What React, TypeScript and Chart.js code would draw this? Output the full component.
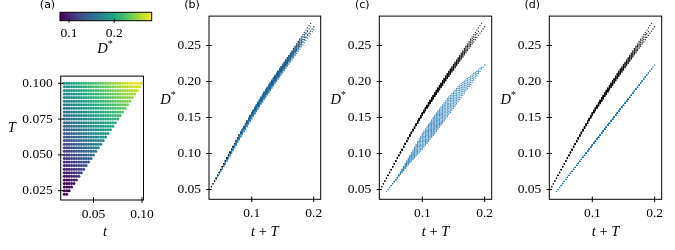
import React, { useEffect, useRef } from "react";
import { Chart, registerables } from "chart.js";
Chart.register(...registerables);

// ---------------- data ----------------
// grid of (t, T) used for panel (a) and the blue series
const T_ROWS = [0.0225, 0.025, 0.0275, 0.03, 0.0325, 0.035, 0.0375, 0.04, 0.0425, 0.045, 0.0475, 0.05, 0.0525, 0.055, 0.0575, 0.06, 0.0625, 0.065, 0.0675, 0.07, 0.0725, 0.075, 0.0775, 0.08, 0.0825, 0.085, 0.0875, 0.09, 0.0925, 0.095, 0.0975, 0.1];
const SMALL_T_COLS = [0.02, 0.0225, 0.025, 0.0275, 0.03, 0.0325, 0.035, 0.0375, 0.04, 0.0425, 0.045, 0.0475, 0.05, 0.0525, 0.055, 0.0575, 0.06, 0.0625, 0.065, 0.0675, 0.07, 0.0725, 0.075, 0.0775, 0.08, 0.0825, 0.085, 0.0875, 0.09, 0.0925, 0.095, 0.0975, 0.1];
// the black (reference) series extends a little lower
const BLACK_EXTRA_ROWS = [0.0175, 0.02];
const BLACK_EXTRA_COLS = [0.015, 0.0175];

// D* read along t+T (lower edge of each cloud and its vertical spread)
const SUM_KNOTS = [0.0325, 0.04, 0.06, 0.08, 0.1, 0.12, 0.14, 0.16, 0.18, 0.2];
const BLACK_LOW = [0.05, 0.0615, 0.093, 0.124, 0.153, 0.179, 0.204, 0.228, 0.252, 0.276];
const BLACK_SPREAD = [0, 0.0005, 0.001, 0.002, 0.0035, 0.0055, 0.007, 0.008, 0.01, 0.011];
const BLUE_B_LOW = [0.05, 0.06, 0.089, 0.119, 0.148, 0.175, 0.2, 0.224, 0.248, 0.272];
const BLUE_B_SPREAD = [0, 0.001, 0.003, 0.007, 0.009, 0.011, 0.012, 0.012, 0.011, 0.01];
const BLUE_C_LOW = [0.036, 0.0445, 0.066, 0.087, 0.106, 0.128, 0.151, 0.175, 0.199, 0.223];
const BLUE_C_SPREAD = [0, 0, 0.001, 0.01, 0.022, 0.025, 0.025, 0.02, 0.01, 0];
const BLUE_D_LINE = [0.036, 0.0445, 0.0668, 0.0891, 0.1114, 0.1337, 0.156, 0.178, 0.2006, 0.223];
const BLUE_D_SPREAD = [0, 0, 0, 0, 0, 0, 0, 0, 0, 0];

// ticks
const A_X_TICKS = [0.05, 0.1];
const A_X_LABELS = ["0.05", "0.10"];
const A_Y_TICKS = [0.025, 0.05, 0.075, 0.1];
const A_Y_LABELS = ["0.025", "0.050", "0.075", "0.100"];
const P_X_TICKS = [0.1, 0.2];
const P_X_LABELS = ["0.1", "0.2"];
const P_Y_TICKS = [0.05, 0.1, 0.15, 0.2, 0.25];
const P_Y_LABELS = ["0.05", "0.10", "0.15", "0.20", "0.25"];
const CB_TICKS = [0.1, 0.2];
const CB_LABELS = ["0.1", "0.2"];
const CB_MIN = 0.08;
const CB_MAX = 0.283;

// ---------------- styles ----------------
const VIRIDIS = ["#440154", "#482475", "#414487", "#355f8d", "#2a788e", "#21918c", "#22a884", "#44bf70", "#7ad151", "#bddf26", "#fde725"];
const SERIF = "'Liberation Serif', 'DejaVu Serif', serif";
const SANS = "'DejaVu Sans', sans-serif";
const TICK_SIZE = 13.5;
const BLACK_PT = "rgba(0,0,0,0.85)";
const BLUE_PT = "rgba(31,119,180,0.88)";

type Pt = { t: number; T: number; s: number; d: number };

function interp(xs: number[], ys: number[], x: number) {
  if (x <= xs[0]) return ys[0];
  for (let i = 1; i < xs.length; i++) {
    if (x <= xs[i]) {
      const f = (x - xs[i - 1]) / (xs[i] - xs[i - 1]);
      return ys[i - 1] + f * (ys[i] - ys[i - 1]);
    }
  }
  return ys[ys.length - 1];
}

function buildSeries(rows: number[], cols: number[], low: number[], spread: number[]): Pt[] {
  const pts: Pt[] = [];
  for (const T of rows) for (const t of cols) if (t <= T + 1e-9) pts.push({ t, T, s: +(t + T).toFixed(5), d: 0 });
  const groups = new Map<number, Pt[]>();
  for (const p of pts) {
    if (!groups.has(p.s)) groups.set(p.s, []);
    groups.get(p.s)!.push(p);
  }
  groups.forEach((g) => {
    g.sort((a, b) => a.T - b.T);
    g.forEach((p, i) => {
      const f = g.length > 1 ? i / (g.length - 1) : 0;
      p.d = interp(SUM_KNOTS, low, p.s) + interp(SUM_KNOTS, spread, p.s) * f;
    });
  });
  return pts;
}

function hexToRgb(h: string) {
  return [parseInt(h.slice(1, 3), 16), parseInt(h.slice(3, 5), 16), parseInt(h.slice(5, 7), 16)];
}
function viridis(v: number) {
  const n = Math.min(1, Math.max(0, (v - CB_MIN) / (CB_MAX - CB_MIN)));
  const pos = n * (VIRIDIS.length - 1);
  const i = Math.min(VIRIDIS.length - 2, Math.floor(pos));
  const f = pos - i;
  const a = hexToRgb(VIRIDIS[i]);
  const b = hexToRgb(VIRIDIS[i + 1]);
  const c = a.map((x, k) => Math.round(x + f * (b[k] - x)));
  return `rgb(${c[0]},${c[1]},${c[2]})`;
}

const BLACK = buildSeries([...BLACK_EXTRA_ROWS, ...T_ROWS], [...BLACK_EXTRA_COLS, ...SMALL_T_COLS], BLACK_LOW, BLACK_SPREAD);
const BLUE_B = buildSeries(T_ROWS, SMALL_T_COLS, BLUE_B_LOW, BLUE_B_SPREAD);
const BLUE_C = buildSeries(T_ROWS, SMALL_T_COLS, BLUE_C_LOW, BLUE_C_SPREAD);
const BLUE_D = buildSeries(T_ROWS, SMALL_T_COLS, BLUE_D_LINE, BLUE_D_SPREAD);
const BLACK_MAP = new Map<string, number>();
BLACK.forEach((p) => BLACK_MAP.set(`${p.t}|${p.T}`, p.d));
const GRID_A = BLUE_D.map((p) => ({ x: p.t, y: p.T, d: BLACK_MAP.get(`${p.t}|${p.T}`) ?? 0 }));

// ---------------- drawing helpers ----------------
type Part = { s: string; italic?: boolean; sup?: boolean };
type TextSpec = { x: number; y: number; parts: Part[]; size: number; family: string };

function drawRich(ctx: CanvasRenderingContext2D, spec: TextSpec, ox: number, oy: number) {
  const fontFor = (p: Part) => `${p.italic ? "italic " : ""}${p.sup ? spec.size * 0.7 : spec.size}px ${spec.family}`;
  let total = 0;
  const widths = spec.parts.map((p) => {
    ctx.font = fontFor(p);
    const w = ctx.measureText(p.s).width;
    total += w;
    return w;
  });
  let x = spec.x - ox - total / 2;
  ctx.textBaseline = "middle";
  ctx.textAlign = "left";
  ctx.fillStyle = "#000";
  spec.parts.forEach((p, i) => {
    ctx.font = fontFor(p);
    ctx.fillText(p.s, x, spec.y - oy - (p.sup ? spec.size * 0.32 : 0));
    x += widths[i];
  });
}

const decorPlugin = {
  id: "decor",
  beforeDatasetsDraw(chart: any, _a: any, opts: any) {
    if (!opts.gradient) return;
    const a = chart.chartArea;
    const ctx = chart.ctx as CanvasRenderingContext2D;
    const g = ctx.createLinearGradient(a.left, 0, a.right, 0);
    VIRIDIS.forEach((c, i) => g.addColorStop(i / (VIRIDIS.length - 1), c));
    ctx.save();
    ctx.fillStyle = g;
    ctx.fillRect(a.left, a.top, a.right - a.left, a.bottom - a.top);
    ctx.restore();
  },
  afterDraw(chart: any, _a: any, opts: any) {
    const ctx = chart.ctx as CanvasRenderingContext2D;
    const a = chart.chartArea;
    ctx.save();
    ctx.strokeStyle = "#000";
    ctx.lineWidth = 1;
    ctx.strokeRect(a.left, a.top, a.right - a.left, a.bottom - a.top);
    const tl = opts.tickLen ?? 2.8;
    for (const id of ["x", "y"]) {
      const sc = chart.scales[id];
      if (!sc || sc.options.display === false) continue;
      for (const tk of sc.ticks) {
        const p = sc.getPixelForValue(tk.value);
        ctx.beginPath();
        if (id === "x") {
          ctx.moveTo(p, a.bottom - tl);
          ctx.lineTo(p, a.bottom + tl);
        } else {
          ctx.moveTo(a.left - tl, p);
          ctx.lineTo(a.left + tl, p);
        }
        ctx.stroke();
      }
    }
    for (const t of opts.texts || []) drawRich(ctx, t, opts.ox, opts.oy);
    ctx.restore();
  },
};

type Box = { x: number; y: number; w: number; h: number };
type Area = { l: number; t: number; r: number; b: number };

function axis(min: number, max: number, ticks: number[], labels: string[], fit: (s: any) => void, pad: number, display = true) {
  return {
    type: "linear",
    display,
    min,
    max,
    afterBuildTicks: (s: any) => {
      s.ticks = ticks.map((v) => ({ value: v }));
    },
    afterFit: fit,
    grid: { display: false, drawTicks: false },
    border: { display: false },
    ticks: {
      autoSkip: false,
      maxRotation: 0,
      padding: pad,
      color: "#000",
      font: { family: SERIF, size: TICK_SIZE },
      callback: (_v: any, i: number) => labels[i],
    },
  };
}

function makeConfig(box: Box, area: Area, xr: number[], yr: number[], xt: number[], xl: string[], yt: number[], yl: string[], datasets: any[], texts: TextSpec[], extra: any = {}) {
  const yDisplay = extra.yDisplay !== false;
  return {
    type: "scatter",
    data: { datasets },
    plugins: [decorPlugin],
    options: {
      responsive: false,
      animation: false,
      devicePixelRatio: 1,
      events: [],
      layout: {
        padding: {
          left: yDisplay ? 0 : area.l - box.x,
          top: area.t - box.y,
          right: box.x + box.w - area.r,
          bottom: 0,
        },
      },
      plugins: {
        legend: { display: false },
        tooltip: { enabled: false },
        decor: { texts, ox: box.x, oy: box.y, gradient: !!extra.gradient, tickLen: extra.tickLen },
      },
      scales: {
        x: axis(xr[0], xr[1], xt, xl, (s: any) => { s.height = box.y + box.h - area.b; }, extra.xPad ?? 6),
        y: axis(yr[0], yr[1], yt, yl, (s: any) => { s.width = yDisplay ? area.l - box.x : 0; }, 8, yDisplay),
      },
    },
  };
}

function ChartBox({ box, config }: { box: Box; config: () => any }) {
  const ref = useRef<HTMLCanvasElement>(null);
  useEffect(() => {
    const c = new Chart(ref.current as HTMLCanvasElement, config());
    return () => c.destroy();
  }, []);
  return (
    <div style={{ position: "absolute", left: box.x, top: box.y, width: box.w, height: box.h }}>
      <canvas ref={ref} width={box.w} height={box.h} style={{ width: box.w, height: box.h, display: "block" }} />
    </div>
  );
}

const DSTAR: Part[] = [{ s: "D", italic: true }, { s: "*", sup: true }];
const TPLUST: Part[] = [{ s: "t", italic: true }, { s: " + " }, { s: "T", italic: true }];
const serif = (x: number, y: number, parts: Part[], size = 14.5): TextSpec => ({ x, y, parts, size, family: SERIF });
const sans = (x: number, y: number, s: string): TextSpec => ({ x, y, parts: [{ s }], size: 11, family: SANS });

const CB_BOX = { x: 30, y: 0, w: 140, h: 60 };
const CB_AREA = { l: 60, t: 12.3, r: 151.7, b: 20.7 };
const A_BOX = { x: 0, y: 60, w: 160, h: 190 };
const A_AREA = { l: 60.7, t: 67.3, r: 150, b: 200 };
const P_XR = [0.031, 0.2113];
const P_YR = [0.0364, 0.2908];
const PANELS = [
  { key: "b", box: { x: 160, y: 0, w: 170, h: 250 }, area: { l: 209, t: 12.3, r: 320.7, b: 199.3 }, blue: BLUE_B, label: "(b)" },
  { key: "c", box: { x: 330, y: 0, w: 170, h: 250 }, area: { l: 379.3, t: 12.3, r: 491.7, b: 199.3 }, blue: BLUE_C, label: "(c)" },
  { key: "d", box: { x: 500, y: 0, w: 175, h: 250 }, area: { l: 549.3, t: 12.3, r: 661.7, b: 199.3 }, blue: BLUE_D, label: "(d)" },
];

export default function App() {
  return (
    <div style={{ position: "absolute", left: 0, top: 0, width: 675, height: 250, background: "#fff", overflow: "hidden" }}>
      <ChartBox
        box={CB_BOX}
        config={() =>
          makeConfig(CB_BOX, CB_AREA, [CB_MIN, CB_MAX], [0, 1], CB_TICKS, CB_LABELS, [], [], [],
            [sans(47.5, 5.5, "(a)"), serif(105, 49.3, DSTAR)],
            { yDisplay: false, gradient: true, tickLen: 2, xPad: 5 })
        }
      />
      <ChartBox
        box={A_BOX}
        config={() =>
          makeConfig(A_BOX, A_AREA, [0.0163, 0.1015], [0.0185, 0.105], A_X_TICKS, A_X_LABELS, A_Y_TICKS, A_Y_LABELS,
            [{
              data: GRID_A.map((p) => ({ x: p.x, y: p.y })),
              pointRadius: 1.5,
              borderWidth: 0,
              pointBackgroundColor: GRID_A.map((p) => viridis(p.d)),
            }],
            [serif(11.7, 128.3, [{ s: "T", italic: true }]), serif(105, 231.7, [{ s: "t", italic: true }])])
        }
      />
      {PANELS.map((p) => (
        <ChartBox
          key={p.key}
          box={p.box}
          config={() =>
            makeConfig(p.box, p.area, P_XR, P_YR, P_X_TICKS, P_X_LABELS, P_Y_TICKS, P_Y_LABELS,
              [
                { data: p.blue.map((q) => ({ x: q.s, y: q.d })), pointRadius: 0.7, borderWidth: 0, pointBackgroundColor: BLUE_PT, order: 0 },
                { data: BLACK.map((q) => ({ x: q.s, y: q.d })), pointRadius: 0.7, borderWidth: 0, pointBackgroundColor: BLACK_PT, order: 1 },
              ],
              [
                sans(p.area.l - 17, 5.5, p.label),
                serif(p.area.l - 41, 100, DSTAR),
                serif((p.area.l + p.area.r) / 2, 231.7, TPLUST),
              ])
          }
        />
      ))}
    </div>
  );
}
